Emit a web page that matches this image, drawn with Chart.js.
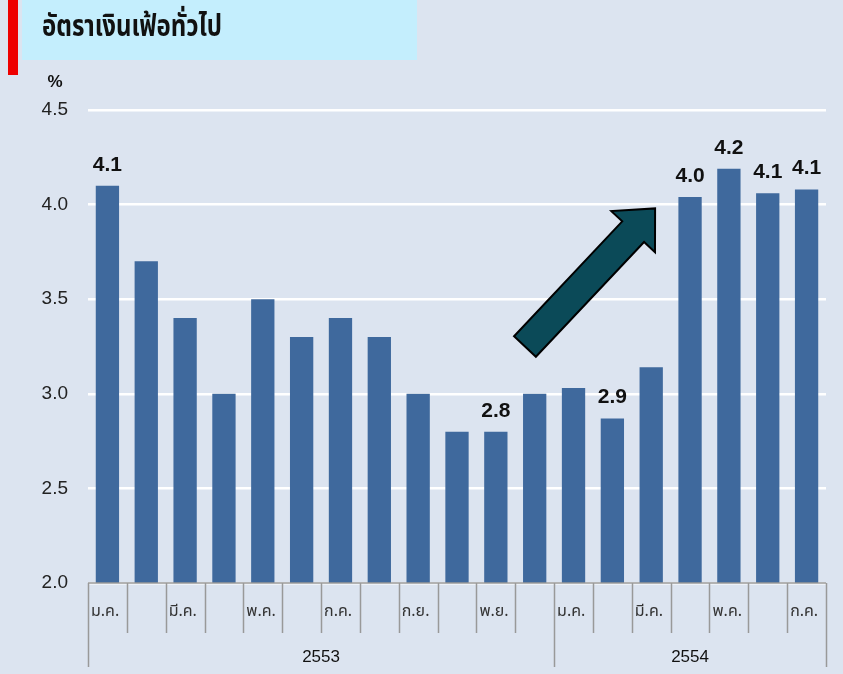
<!DOCTYPE html>
<html>
<head>
<meta charset="utf-8">
<script src="https://cdn.jsdelivr.net/npm/chart.js@4"></script>
<style>
  html, body { margin: 0; padding: 0; background: #dce4f0; }
  #wrap { position: relative; width: 843px; height: 674px; }
</style>
</head>
<body>
<div id="wrap"><canvas id="chart" width="843" height="674"></canvas></div>
<script>
// data
var months = ['ม.ค.', 'ก.พ.', 'มี.ค.', 'เม.ย.', 'พ.ค.', 'มิ.ย.', 'ก.ค.', 'ส.ค.', 'ก.ย.', 'ต.ค.', 'พ.ย.', 'ธ.ค.',
              'ม.ค.', 'ก.พ.', 'มี.ค.', 'เม.ย.', 'พ.ค.', 'มิ.ย.', 'ก.ค.'];
var years = ['2553', '2554'];
var yearCounts = [12, 7];
var inflation = [4.1, 3.7, 3.4, 3.0, 3.5, 3.3, 3.4, 3.3, 3.0, 2.8, 2.8, 3.0,
                 3.03, 2.87, 3.14, 4.04, 4.19, 4.06, 4.08];
var valueLabels = ['4.1', '', '', '', '', '', '', '', '', '', '2.8', '',
                   '', '2.9', '', '4.0', '4.2', '4.1', '4.1'];
var yTicks = [2.0, 2.5, 3.0, 3.5, 4.0, 4.5];

var thaiFont = '"Noto Sans Thai", "Noto Sans Thai UI", Loma, Garuda, Tahoma, "Liberation Sans", sans-serif';

var decorPlugin = {
    id: 'decor',
    beforeDraw: function (chart) {
        var c = chart.ctx;
        c.save();
        c.fillStyle = '#dce4f0';
        c.fillRect(0, 0, chart.width, chart.height);
        // title box
        c.fillStyle = '#c4eefd';
        c.fillRect(22, 0, 395, 60);
        c.fillStyle = '#ee0000';
        c.fillRect(8, 0, 10, 75);
        c.fillStyle = '#111';
        c.font = 'bold 30px ' + thaiFont;
        c.textBaseline = 'middle';
        c.save();
        c.translate(42, 30);
        c.scale(0.8, 1);
        c.fillText('อัตราเงินเฟ้อทั่วไป', 0, 0);
        c.restore();
        c.font = 'bold 17px "Liberation Sans", Arial, sans-serif';
        c.textAlign = 'center';
        c.fillText('%', 55, 82);
        c.restore();
    },
    afterDatasetsDraw: function (chart) {
        var c = chart.ctx;
        var x = chart.scales.x, y = chart.scales.y;
        var area = chart.chartArea;
        var n = months.length;
        var w = (area.right - area.left) / n;
        c.save();
        // x axis line
        c.strokeStyle = '#999';
        c.lineWidth = 1.5;
        c.beginPath();
        c.moveTo(area.left, area.bottom);
        c.lineTo(area.right, area.bottom);
        c.stroke();
        // separators
        var longAt = [0];
        var acc = 0;
        yearCounts.forEach(function (k) { acc += k; longAt.push(acc); });
        for (var i = 0; i <= n; i++) {
            var px = Math.round(area.left + i * w) + 0.5;
            var isLong = longAt.indexOf(i) >= 0;
            c.beginPath();
            c.moveTo(px, area.bottom);
            c.lineTo(px, isLong ? 667 : 633);
            c.stroke();
        }
        // month labels (every other month)
        c.fillStyle = '#333';
        c.font = '16px ' + thaiFont;
        c.textBaseline = 'middle';
        c.textAlign = 'left';
        var start = 0;
        yearCounts.forEach(function (k) {
            for (var j = 0; j < k; j += 2) {
                c.fillText(months[start + j], area.left + (start + j) * w + 3, 613);
            }
            start += k;
        });
        // year labels
        c.fillStyle = '#111';
        c.font = '17px "Liberation Sans", Arial, sans-serif';
        c.textAlign = 'center';
        start = 0;
        yearCounts.forEach(function (k, idx) {
            var mid = area.left + (start + k / 2) * w;
            c.fillText(years[idx], mid, 657);
            start += k;
        });
        // value labels
        c.font = 'bold 21px "Liberation Sans", Arial, sans-serif';
        c.fillStyle = '#111';
        c.textBaseline = 'alphabetic';
        for (var b = 0; b < n; b++) {
            if (!valueLabels[b]) continue;
            c.fillText(valueLabels[b], x.getPixelForValue(b), y.getPixelForValue(inflation[b]) - 15);
        }
        // arrow
        var tx = x.getPixelForValue(10.75), ty = y.getPixelForValue(3.25);
        var hx = x.getPixelForValue(14.1), hy = y.getPixelForValue(3.98);
        var dx = hx - tx, dy = hy - ty;
        var len = Math.sqrt(dx * dx + dy * dy);
        var ux = dx / len, uy = dy / len;
        var nx = -uy, ny = ux;
        var sw = 15, hw = 30, hl = 32;
        var bx = hx - ux * hl, by = hy - uy * hl;
        c.beginPath();
        c.moveTo(tx + nx * sw, ty + ny * sw);
        c.lineTo(bx + nx * sw, by + ny * sw);
        c.lineTo(bx + nx * hw, by + ny * hw);
        c.lineTo(hx, hy);
        c.lineTo(bx - nx * hw, by - ny * hw);
        c.lineTo(bx - nx * sw, by - ny * sw);
        c.lineTo(tx - nx * sw, ty - ny * sw);
        c.closePath();
        c.fillStyle = '#0b4a58';
        c.fill();
        c.strokeStyle = '#000';
        c.lineWidth = 2;
        c.lineJoin = 'miter';
        c.stroke();
        c.restore();
    }
};

var ctx = document.getElementById('chart').getContext('2d');
var chart = new Chart(ctx, {
    type: 'bar',
    data: {
        labels: months,
        datasets: [{
            data: inflation,
            backgroundColor: '#3f699d',
            borderWidth: 0,
            categoryPercentage: 0.6,
            barPercentage: 1.0
        }]
    },
    options: {
        responsive: false,
        animation: false,
        events: [],
        layout: { padding: { top: 110, bottom: 91, left: 0, right: 17 } },
        plugins: { legend: { display: false }, tooltip: { enabled: false } },
        scales: {
            x: { display: false },
            y: {
                min: 2,
                max: 4.5,
                afterFit: function (s) { s.width = 88; },
                afterBuildTicks: function (s) { s.ticks = yTicks.map(function (v) { return { value: v }; }); },
                ticks: {
                    padding: 20,
                    color: '#222',
                    font: { family: '"Liberation Sans", Arial, sans-serif', size: 19 },
                    callback: function (v) { return Number(v).toFixed(1); }
                },
                grid: { color: '#ffffff', lineWidth: 2.5, drawTicks: false },
                border: { display: false }
            }
        }
    },
    plugins: [decorPlugin]
});
</script>
</body>
</html>
